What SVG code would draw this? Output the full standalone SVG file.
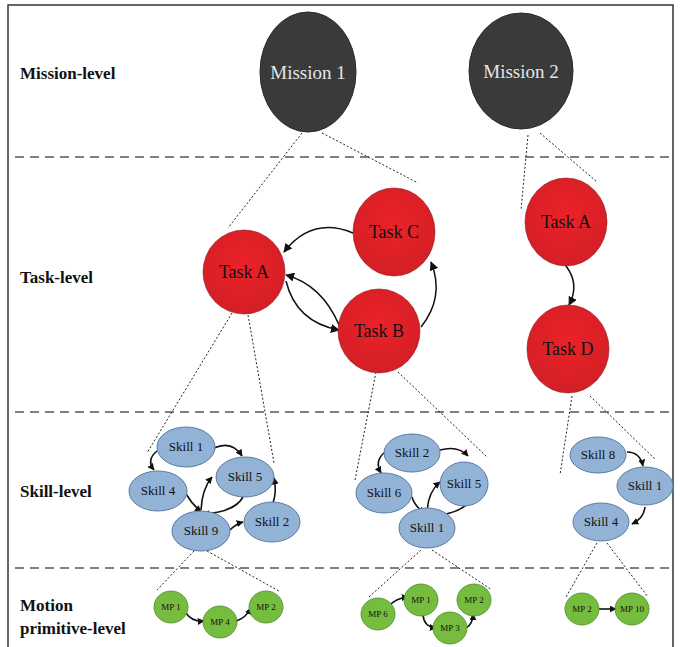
<svg xmlns="http://www.w3.org/2000/svg" width="680" height="647" viewBox="0 0 680 647">
<style>
.lvl{font-family:"Liberation Serif",serif;font-weight:bold;font-size:17px;fill:#111}
.mis{fill:#3a3a3a;stroke:#2a2a2a;stroke-width:1}
.mist{font-family:"Liberation Serif",serif;font-size:19px;fill:#e6e6e6;text-anchor:middle}
.task{fill:url(#redg);stroke:#8a1a1a;stroke-width:0.6}
.taskt{font-family:"Liberation Serif",serif;font-size:18px;fill:#111;text-anchor:middle}
.skill{fill:#93b3d6;stroke:#5a7aa2;stroke-width:1}
.skillt{font-family:"Liberation Serif",serif;font-size:13px;fill:#111;text-anchor:middle}
.mp{fill:#76bd3f;stroke:#4a8a28;stroke-width:0.8}
.mpt{font-family:"Liberation Serif",serif;font-size:9px;fill:#111;text-anchor:middle}
.sep{stroke:#555;stroke-width:1.6;stroke-dasharray:9 6;fill:none}
.dot{stroke:#222;stroke-width:1;stroke-dasharray:2 2;fill:none}
.arr{stroke:#111;stroke-width:1.5;fill:none;marker-end:url(#ah)}
.arrs{stroke:#111;stroke-width:1.6;fill:none;marker-end:url(#ahs)}
</style>
<defs>
<radialGradient id="redg" cx="50%" cy="40%" r="60%">
<stop offset="0" stop-color="#ea2228"/>
<stop offset="1" stop-color="#d41f26"/>
</radialGradient>
<marker id="ah" viewBox="0 0 10 10" refX="9" refY="5" markerWidth="9" markerHeight="9" markerUnits="userSpaceOnUse" orient="auto">
<path d="M0,0 L10,5 L0,10 z" fill="#111"/>
</marker>
<marker id="ahs" viewBox="0 0 10 10" refX="9" refY="5" markerWidth="7" markerHeight="7" markerUnits="userSpaceOnUse" orient="auto">
<path d="M0,0 L10,5 L0,10 z" fill="#111"/>
</marker>
</defs>
<rect x="8" y="5" width="665" height="660" fill="#fff" stroke="#333" stroke-width="1.5"/>
<g id="separators">
<line class="sep" x1="15" y1="157" x2="670" y2="157"/>
<line class="sep" x1="15" y1="412" x2="670" y2="412"/>
<line class="sep" x1="15" y1="568" x2="670" y2="568"/>
</g>
<g id="labels">
<text class="lvl" x="20" y="79">Mission-level</text>
<text class="lvl" x="20" y="283">Task-level</text>
<text class="lvl" x="20" y="497">Skill-level</text>
<text class="lvl" x="20" y="611">Motion</text>
<text class="lvl" x="20" y="634">primitive-level</text>
</g>
<g id="connectors">
<path class="dot" d="M302,133 L228,228"/>
<path class="dot" d="M322,133 L418,183"/>
<path class="dot" d="M528,135 L521,210"/>
<path class="dot" d="M540,133 L597,182"/>
<path class="dot" d="M232,313 L147,453"/>
<path class="dot" d="M248,315 L274,463"/>
<path class="dot" d="M376,372 L355,480"/>
<path class="dot" d="M398,372 L487,457"/>
<path class="dot" d="M572,396 L560,475"/>
<path class="dot" d="M590,396 L656,460"/>
<path class="dot" d="M194,551 L157,590"/>
<path class="dot" d="M207,551 L279,591"/>
<path class="dot" d="M421,550 L369,597"/>
<path class="dot" d="M432,550 L492,590"/>
<path class="dot" d="M597,543 L566,597"/>
<path class="dot" d="M607,543 L648,597"/>
<path class="arr" d="M353,233 Q312,216 284,252"/>
<path class="arr" d="M339,325 Q322,285 286,275"/>
<path class="arr" d="M286,281 Q296,322 339,330"/>
<path class="arr" d="M421,327 Q445,297 431,262"/>
<path class="arr" d="M566,266 Q580,284 569,305"/>
<path class="arrs" d="M214,448 Q232,440 242,456"/>
<path class="arrs" d="M157,451 Q146,460 154,470"/>
<path class="arrs" d="M186,494 Q192,504 201,512"/>
<path class="arrs" d="M201,510 Q202,489 212,477"/>
<path class="arrs" d="M243,497 Q235,512 203,514"/>
<path class="arrs" d="M230,530 Q236,524 243,522"/>
<path class="arrs" d="M273,503 Q277,492 274,478"/>
<path class="arrs" d="M440,450 Q458,445 468,456"/>
<path class="arrs" d="M385,452 Q374,461 381,473"/>
<path class="arrs" d="M412,497 Q415,507 425,513"/>
<path class="arrs" d="M427,512 Q428,492 440,482"/>
<path class="arrs" d="M470,500 Q462,514 430,516"/>
<path class="arrs" d="M627,452 Q640,452 643,466"/>
<path class="arrs" d="M645,507 Q644,518 632,524"/>
<path class="arrs" d="M186,613 Q192,622 204,621"/>
<path class="arrs" d="M236,621 Q246,618 251,608"/>
<path class="arrs" d="M389,606 Q396,598 408,597"/>
<path class="arrs" d="M423,615 Q424,627 436,628"/>
<path class="arrs" d="M466,628 Q473,624 473,614"/>
<path class="arrs" d="M599,609 L616,609"/>
</g>
<g id="mission1"><ellipse class="mis" cx="308" cy="72" rx="48" ry="60"/><text class="mist" x="308" y="79">Mission 1</text></g>
<g id="mission2"><ellipse class="mis" cx="521" cy="71" rx="52" ry="58"/><text class="mist" x="521" y="78">Mission 2</text></g>
<g id="taskA1"><ellipse class="task" cx="244" cy="272" rx="41" ry="42"/><text class="taskt" x="244" y="278">Task A</text></g>
<g id="taskC"><ellipse class="task" cx="394" cy="232" rx="41" ry="44"/><text class="taskt" x="394" y="238">Task C</text></g>
<g id="taskB"><ellipse class="task" cx="379" cy="331" rx="41" ry="42"/><text class="taskt" x="379" y="337">Task B</text></g>
<g id="taskA2"><ellipse class="task" cx="566" cy="222" rx="41" ry="44"/><text class="taskt" x="566" y="228">Task A</text></g>
<g id="taskD"><ellipse class="task" cx="568" cy="349" rx="41" ry="44"/><text class="taskt" x="568" y="355">Task D</text></g>
<g id="g1skill1"><ellipse class="skill" cx="186" cy="447" rx="29" ry="20"/><text class="skillt" x="186" y="451">Skill 1</text></g>
<g id="g1skill5"><ellipse class="skill" cx="245" cy="477" rx="29" ry="20"/><text class="skillt" x="245" y="481">Skill 5</text></g>
<g id="g1skill4"><ellipse class="skill" cx="158" cy="491" rx="29" ry="20"/><text class="skillt" x="158" y="495">Skill 4</text></g>
<g id="g1skill9"><ellipse class="skill" cx="201" cy="531" rx="29" ry="20"/><text class="skillt" x="201" y="535">Skill 9</text></g>
<g id="g1skill2"><ellipse class="skill" cx="272" cy="522" rx="28" ry="20"/><text class="skillt" x="272" y="526">Skill 2</text></g>
<g id="g2skill2"><ellipse class="skill" cx="412" cy="453" rx="28" ry="19"/><text class="skillt" x="412" y="457">Skill 2</text></g>
<g id="g2skill5"><ellipse class="skill" cx="464" cy="484" rx="24" ry="22"/><text class="skillt" x="464" y="488">Skill 5</text></g>
<g id="g2skill6"><ellipse class="skill" cx="384" cy="493" rx="28" ry="20"/><text class="skillt" x="384" y="497">Skill 6</text></g>
<g id="g2skill1"><ellipse class="skill" cx="427" cy="528" rx="28" ry="20"/><text class="skillt" x="427" y="532">Skill 1</text></g>
<g id="g3skill8"><ellipse class="skill" cx="598" cy="455" rx="28" ry="18"/><text class="skillt" x="598" y="459">Skill 8</text></g>
<g id="g3skill1"><ellipse class="skill" cx="645" cy="486" rx="28" ry="19"/><text class="skillt" x="645" y="490">Skill 1</text></g>
<g id="g3skill4"><ellipse class="skill" cx="601" cy="522" rx="28" ry="19"/><text class="skillt" x="601" y="526">Skill 4</text></g>
<g id="g1mp1"><ellipse class="mp" cx="171" cy="607" rx="17" ry="16"/><text class="mpt" x="171" y="610">MP 1</text></g>
<g id="g1mp4"><ellipse class="mp" cx="220" cy="622" rx="17" ry="16"/><text class="mpt" x="220" y="625">MP 4</text></g>
<g id="g1mp2"><ellipse class="mp" cx="266" cy="607" rx="17" ry="16"/><text class="mpt" x="266" y="610">MP 2</text></g>
<g id="g2mp6"><ellipse class="mp" cx="378" cy="614" rx="17" ry="16"/><text class="mpt" x="378" y="617">MP 6</text></g>
<g id="g2mp1"><ellipse class="mp" cx="421" cy="600" rx="17" ry="16"/><text class="mpt" x="421" y="603">MP 1</text></g>
<g id="g2mp3"><ellipse class="mp" cx="450" cy="628" rx="17" ry="16"/><text class="mpt" x="450" y="631">MP 3</text></g>
<g id="g2mp2"><ellipse class="mp" cx="474" cy="600" rx="17" ry="16"/><text class="mpt" x="474" y="603">MP 2</text></g>
<g id="g3mp2"><ellipse class="mp" cx="582" cy="609" rx="17" ry="16"/><text class="mpt" x="582" y="612">MP 2</text></g>
<g id="g3mp10"><ellipse class="mp" cx="632" cy="609" rx="17" ry="16"/><text class="mpt" x="632" y="612">MP 10</text></g>
</svg>
